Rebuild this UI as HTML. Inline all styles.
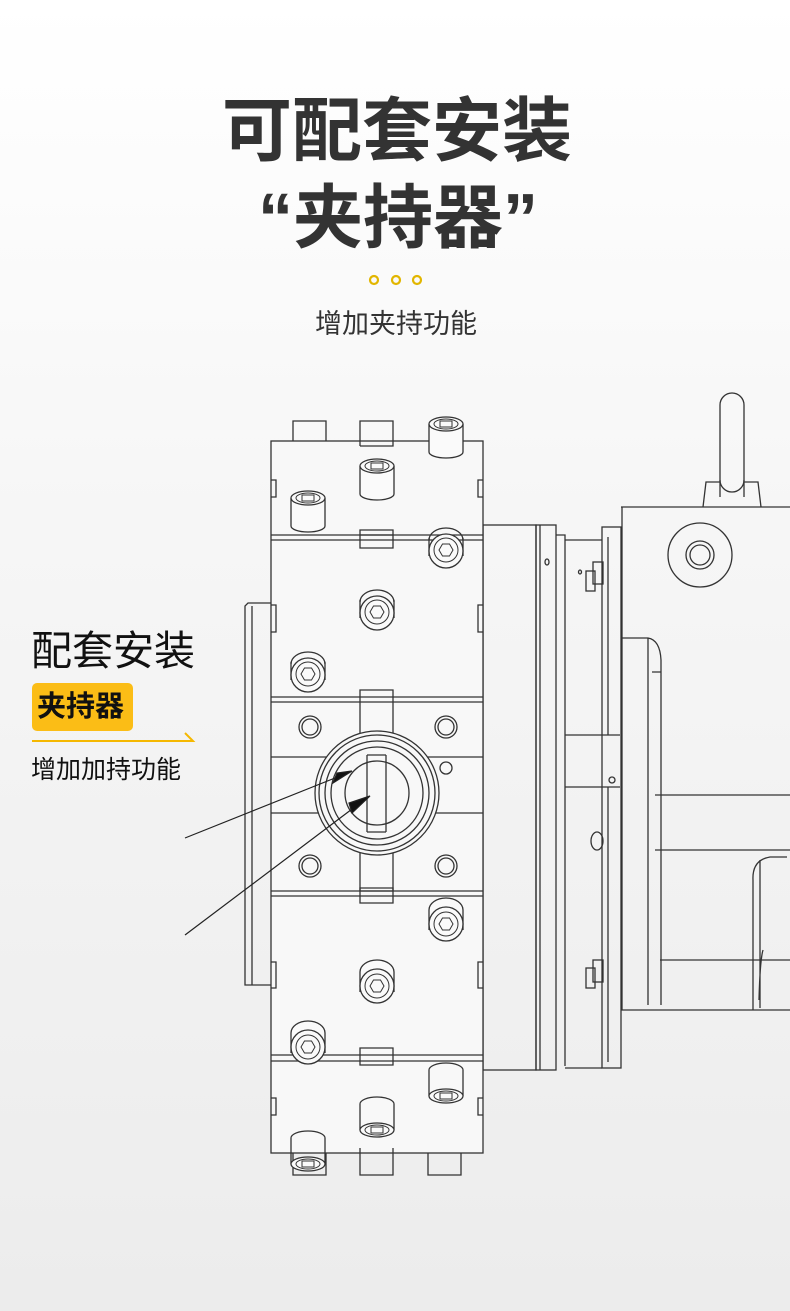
<!DOCTYPE html>
<html><head><meta charset="utf-8"><style>
html,body{margin:0;padding:0}
body{width:790px;height:1311px;position:relative;overflow:hidden;background:linear-gradient(180deg,#ffffff 0%,#f6f6f6 40%,#ececec 100%);font-family:"Liberation Sans","Noto Sans CJK SC",sans-serif}
.t{position:absolute;white-space:nowrap}
</style></head><body>
<div class="t" style="left:0;width:794px;text-align:center;top:88px;font-size:70px;font-weight:700;color:#333;line-height:86px">可配套安装</div>
<div class="t" style="left:0;width:796px;text-align:center;top:175px;font-size:70px;font-weight:700;color:#333;line-height:86px">“夹持器”</div>
<svg class="t" style="left:0;top:0" width="790" height="1311">
<g fill="none" stroke="#e2b600" stroke-width="2.2"><circle cx="374" cy="280" r="4"/><circle cx="396" cy="280" r="4"/><circle cx="417" cy="280" r="4"/></g>
</svg>
<div class="t" style="left:0;width:792px;text-align:center;top:306px;font-size:27px;color:#333;line-height:36px">增加夹持功能</div>

<svg class="t" style="left:0;top:0" width="790" height="1311">
<defs>
<g id="bu"><path d="M-17,-14 L-17,14 A17,6 0 0 0 17,14 L17,-14" fill="#fafafa" stroke="#333" stroke-width="1.3"/><ellipse cx="0" cy="-14" rx="17" ry="7" fill="#fafafa" stroke="#333" stroke-width="1.3"/><ellipse cx="0" cy="-14" rx="12" ry="5" fill="none" stroke="#333"/><rect x="-6" y="-17" width="12" height="6" fill="none" stroke="#333"/></g>
<g id="bf"><path d="M-17,-8 L-17,10 M17,-8 L17,10" stroke="#333" stroke-width="1.3"/><path d="M-17,-6 A17,12 0 0 1 17,-6" fill="none" stroke="#333" stroke-width="1.3"/><circle cx="0" cy="5" r="17" fill="#fafafa" stroke="#333" stroke-width="1.3"/><circle cx="0" cy="4" r="12" fill="none" stroke="#333"/><polygon points="-7,4 -3.5,-2 3.5,-2 7,4 3.5,10 -3.5,10" fill="none" stroke="#333"/></g>
<g id="bd"><path d="M-17,10 L-17,-10 A17,12 0 0 1 17,-10 L17,10" fill="#fafafa" stroke="#333" stroke-width="1.3"/><circle cx="0" cy="4" r="17" fill="#fafafa" stroke="#333" stroke-width="1.3"/><circle cx="0" cy="4" r="12" fill="none" stroke="#333"/><polygon points="-7,4 -3.5,-2 3.5,-2 7,4 3.5,10 -3.5,10" fill="none" stroke="#333"/></g>
<g id="bl"><path d="M-17,-12 L-17,14 M17,-12 L17,14" stroke="#333" stroke-width="1.3"/><path d="M-17,-12 A17,7 0 0 1 17,-12" fill="none" stroke="#333" stroke-width="1.3"/><ellipse cx="0" cy="14" rx="17" ry="7" fill="#fafafa" stroke="#333" stroke-width="1.3"/><ellipse cx="0" cy="14" rx="12" ry="5" fill="none" stroke="#333"/><rect x="-6" y="11" width="12" height="6" fill="none" stroke="#333"/></g>
</defs>
<g fill="none" stroke="#333" stroke-width="1.3">
<path d="M720,497 L720,405 A12,12 0 0 1 744,405 L744,497"/>
<path d="M703,507 L706,482 L720,482 M744,482 L758,482 L761,507"/>
<path d="M720,480 A12,12 0 0 0 744,480"/>
<path d="M621,507 L790,507 M622,507 L622,1010 L790,1010"/>
<circle cx="700" cy="555" r="32"/><circle cx="700" cy="555" r="14"/><circle cx="700" cy="555" r="10"/>
<path d="M622,638 L648,638 Q660,640 661,660 L661,1005 M648,638 L648,1005 M652,672 L661,672"/>
<path d="M655,795 L790,795 M655,850 L790,850 M660,960 L790,960"/>
<path d="M787,857 L770,857 Q752,860 753,880 L753,1010 M760,860 L760,1008 M763,950 Q760,960 759,1000"/>
<rect x="483" y="525" width="53" height="545"/>
<rect x="536" y="525" width="20" height="545"/>
<path d="M540,525 L540,1070"/>
<ellipse cx="547" cy="562" rx="2" ry="3"/>
<path d="M556,535 L565,535 L565,1066 M565,540 L602,540 M565,1068 L602,1068"/>
<rect x="602" y="527" width="19" height="541"/>
<path d="M565,735 L620,735 M565,787 L620,787 M608,537 L608,735 M608,787 L608,1062"/>
<circle cx="612" cy="780" r="3"/>
<rect x="593" y="562" width="10" height="22"/><rect x="586" y="571" width="9" height="20"/>
<rect x="593" y="960" width="10" height="22"/><rect x="586" y="968" width="9" height="20"/>
<ellipse cx="597" cy="841" rx="6" ry="9"/>
<ellipse cx="580" cy="572" rx="1.5" ry="2"/>
<path d="M271,603 L248,603 L245,606 L245,985 L271,985 M252,606 L252,985"/>
<rect x="271" y="441" width="212" height="712" fill="#f8f8f8"/>
<path d="M271,535 L483,535 M271,540 L483,540 M271,697 L483,697 M271,702 L483,702 M271,757 L483,757 M271,813 L483,813 M271,891 L483,891 M271,896 L483,896 M271,1055 L483,1055 M271,1061 L483,1061"/>
<path d="M271,480 L276,480 L276,497 L271,497 M483,480 L478,480 L478,497 L483,497"/>
<path d="M271,605 L276,605 L276,632 L271,632 M483,605 L478,605 L478,632 L483,632"/>
<path d="M271,962 L276,962 L276,988 L271,988 M483,962 L478,962 L478,988 L483,988"/>
<path d="M271,1098 L276,1098 L276,1115 L271,1115 M483,1098 L478,1098 L478,1115 L483,1115"/>
<path d="M293,441 L293,421 L326,421 L326,441 M360,446 L360,421 L393,421 L393,446 L360,446"/>
<path d="M360,530 L393,530 L393,548 L360,548 Z M360,535 L393,535"/>
<path d="M360,702 L360,690 L393,690 L393,702"/>
<path d="M360,888 L393,888 L393,903 L360,903 Z M360,891 L393,891"/>
<path d="M360,1048 L393,1048 L393,1065 L360,1065 Z"/>
<path d="M293,1153 L293,1175 L326,1175 L326,1153 M360,1148 L360,1175 L393,1175 L393,1148 M428,1153 L428,1175 L461,1175 L461,1153"/>
<path d="M360,702 L360,740 M393,702 L393,740 M360,845 L360,891 M393,845 L393,891"/>
<circle cx="377" cy="793" r="62" fill="#f8f8f8"/><circle cx="377" cy="793" r="58"/><circle cx="377" cy="793" r="52"/><circle cx="377" cy="793" r="46"/><circle cx="377" cy="793" r="32"/>
<path d="M367,755 L367,832 M386,755 L386,832 M367,755 L386,755 M367,832 L386,832"/>
<circle cx="310" cy="727" r="11"/><circle cx="310" cy="727" r="8"/>
<circle cx="446" cy="727" r="11"/><circle cx="446" cy="727" r="8"/>
<circle cx="310" cy="866" r="11"/><circle cx="310" cy="866" r="8"/>
<circle cx="446" cy="866" r="11"/><circle cx="446" cy="866" r="8"/>
<circle cx="446" cy="768" r="6"/>
</g>
<use href="#bu" x="446" y="438"/>
<use href="#bu" x="377" y="480"/>
<use href="#bu" x="308" y="512"/>
<use href="#bf" x="446" y="546"/>
<use href="#bf" x="377" y="608"/>
<use href="#bf" x="308" y="670"/>
<use href="#bd" x="446" y="920"/>
<use href="#bd" x="377" y="982"/>
<use href="#bd" x="308" y="1043"/>
<use href="#bl" x="446" y="1082"/>
<use href="#bl" x="377" y="1116"/>
<use href="#bl" x="308" y="1150"/>
<g stroke="#222" stroke-width="1.2" fill="#111">
<path d="M185,838 L350,772" fill="none"/><polygon points="352,771 333,783 337,773"/>
<path d="M185,935 L368,797" fill="none"/><polygon points="370,796 352,813 349,803"/>
</g>
</svg>

<div class="t" style="left:31px;top:624px;font-size:41px;color:#111;line-height:54px">配套安装</div>
<div class="t" style="left:32px;top:683px;width:101px;height:48px;background:#fbbd16;border-radius:5px"></div>
<div class="t" style="left:37px;top:686px;font-size:29px;font-weight:700;color:#111;line-height:42px">夹持器</div>
<svg class="t" style="left:0;top:0" width="200" height="760"><path d="M32,741 L193,741 L185,733" fill="none" stroke="#f5b800" stroke-width="2"/></svg>
<div class="t" style="left:31px;top:753px;font-size:25px;color:#111;line-height:34px">增加加持功能</div>
</body></html>
